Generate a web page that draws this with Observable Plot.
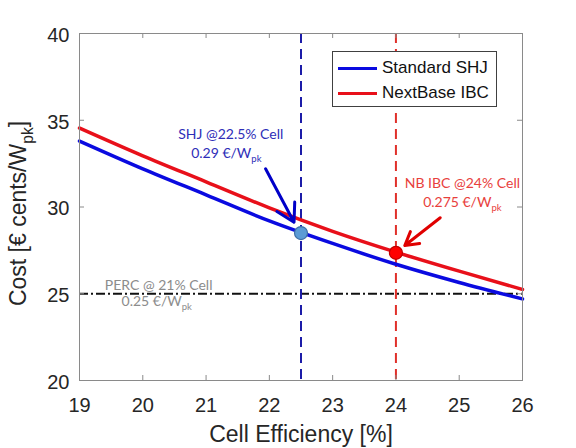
<!DOCTYPE html>
<html>
<head>
<meta charset="utf-8">
<script src="https://cdn.jsdelivr.net/npm/d3@7"></script>
<script src="https://cdn.jsdelivr.net/npm/@observablehq/plot@0.6"></script>
<style>
  html, body { margin: 0; padding: 0; background: #fff; }
  #wrap { position: relative; width: 576px; height: 448px; overflow: hidden; }
  #legend { position: absolute; left: 332px; top: 51px; width: 165px; height: 56px;
            border: 1px solid #404040; background: #fff; box-sizing: border-box;
            font-family: "Liberation Sans", Arial, sans-serif; font-size: 17px; color: #111; }
  .lg-line { position: absolute; left: 5px; width: 39px; height: 3.5px; }
  .lg-text { position: absolute; left: 49px; line-height: 17px; white-space: nowrap; }
</style>
</head>
<body>
<div id="wrap"></div>
<script>
// ---- data ----
const seriesNames = ["Standard SHJ", "NextBase IBC"];
const seriesColors = ["#0a0ae0", "#e8101a"];
const efficiency = [19, 20, 21, 22, 23, 24, 25, 26];
const shjCost = [33.8, 32.2, 30.7, 29.2, 27.9, 26.7, 25.65, 24.7];
const ibcCost = [34.55, 32.95, 31.45, 29.95, 28.6, 27.4, 26.3, 25.25];

const markerEff = [22.5, 24];
const markerCost = [28.5, 27.36];
const markerFill = ["#5b9bd5", "#ff0000"];
const markerStroke = ["#3d6fa6", "#c00000"];

const refEff = [22.5, 24];
const refColors = ["#1c1ca8", "#e0302a"];
const percCost = [25];

const xTicks = [19, 20, 21, 22, 23, 24, 25, 26];
const yTicks = [20, 25, 30, 35, 40];

const annText = ["SHJ @22.5% Cell", "0.29 €/W_pk", "NB IBC @24% Cell", "0.275 €/W_pk", "PERC @ 21% Cell", "0.25 €/W_pk"];
const annX = [21.39, 21.32, 25.05, 25.05, 20.25, 20.22];
const annY = [34.15, 33.11, 31.35, 30.27, 25.49, 24.55];
const annColor = ["#2e2eb8", "#2e2eb8", "#e8403c", "#e8403c", "#8c8c8c", "#8c8c8c"];

const arrowX1 = [21.94, 24.70];
const arrowY1 = [32.2, 29.38];
const arrowX2 = [22.39, 24.14];
const arrowY2 = [29.12, 27.78];
const arrowColor = ["#0000c8", "#e00000"];

const xLabel = "Cell Efficiency [%]";
const yLabel = "Cost [€ cents/W_pk]";

// ---- build tables ----
const curves = [];
efficiency.forEach((e, i) => {
  curves.push({series: seriesNames[0], eff: e, cost: shjCost[i]});
  curves.push({series: seriesNames[1], eff: e, cost: ibcCost[i]});
});
const markers = markerEff.map((e, i) => ({eff: e, cost: markerCost[i], fill: markerFill[i], stroke: markerStroke[i]}));
const refs = refEff.map((e, i) => ({eff: e, color: refColors[i]}));
const anns = annText.map((t, i) => ({text: t, x: annX[i], y: annY[i], color: annColor[i]}));
const arrows = arrowX1.map((x, i) => ({x1: x, y1: arrowY1[i], x2: arrowX2[i], y2: arrowY2[i], color: arrowColor[i]}));

const W = 576, H = 448;
const mL = 79, mR = 54, mT = 33, mB = 68;
const fw = W - mL - mR, fh = H - mT - mB;
const tick = 5;

const chart = Plot.plot({
  width: W, height: H,
  marginLeft: mL, marginRight: mR, marginTop: mT, marginBottom: mB,
  style: {fontFamily: "'Liberation Sans', Arial, sans-serif", color: "#262626", background: "white"},
  x: {domain: [19, 26], label: null},
  y: {domain: [20, 40], label: null},
  color: {domain: seriesNames, range: seriesColors},
  marks: [
    Plot.ruleY(percCost, {y: d => d, stroke: "#111", strokeWidth: 2, strokeDasharray: "9,3,2,3"}),
    Plot.ruleX(refs, {x: "eff", stroke: "color", strokeWidth: 2, strokeDasharray: "10,6"}),
    Plot.line(curves, {x: "eff", y: "cost", z: "series", stroke: "series", strokeWidth: 3.5, curve: "monotone-x"}),
    Plot.dot(markers, {x: "eff", y: "cost", r: 6.5, fill: "fill", stroke: "stroke", strokeWidth: 1.2}),
    Plot.arrow(arrows, {x1: "x1", y1: "y1", x2: "x2", y2: "y2", stroke: "color", strokeWidth: 3, headLength: 11}),
    Plot.text(anns, {x: "x", y: "y", text: "text", fill: "color", fontSize: 14, fontFamily: "Lato, 'Open Sans', sans-serif", textAnchor: "middle"}),
    Plot.frame({stroke: "#8a8a8a"}),
    Plot.tickX(xTicks, {x: d => d, stroke: "#8a8a8a", insetTop: fh - tick}),
    Plot.tickX(xTicks, {x: d => d, stroke: "#8a8a8a", insetBottom: fh - tick}),
    Plot.tickY(yTicks, {y: d => d, stroke: "#8a8a8a", insetRight: fw - tick}),
    Plot.tickY(yTicks, {y: d => d, stroke: "#8a8a8a", insetLeft: fw - tick}),
    Plot.axisX({ticks: xTicks, tickFormat: d => String(d), tickSize: 0, tickPadding: 17, fontSize: 20, label: null}),
    Plot.axisY({ticks: yTicks, tickFormat: d => String(d), tickSize: 0, tickPadding: 10, fontSize: 20, dy: 2, label: null}),
    Plot.text([xLabel], {frameAnchor: "bottom", text: d => d, fontSize: 23, textAnchor: "middle", lineAnchor: "middle", dy: 54.5, fill: "#262626"}),
    Plot.text([yLabel], {frameAnchor: "left", text: d => d, fontSize: 23, rotate: -90, textAnchor: "middle", lineAnchor: "middle", dx: -61, dy: 6.5, fill: "#262626"})
  ]
});

const wrap = document.getElementById("wrap");
wrap.appendChild(chart);

// subscripts: "_pk" -> real subscript tspan
const NS = "http://www.w3.org/2000/svg";
chart.querySelectorAll("text").forEach(el => {
  const s = el.textContent;
  const k = s.indexOf("_");
  if (k < 0 || el.querySelector("tspan")) return;
  const fs = parseFloat(getComputedStyle(el).fontSize) || 14;
  const before = s.slice(0, k);
  const rest = s.slice(k + 1);
  const sub = rest.match(/^[a-z]+/)[0];
  const after = rest.slice(sub.length);
  el.textContent = before;
  const t1 = document.createElementNS(NS, "tspan");
  t1.setAttribute("dy", (0.3 * fs).toFixed(2));
  t1.setAttribute("font-size", (0.68 * fs).toFixed(2));
  t1.textContent = sub;
  el.appendChild(t1);
  if (after) {
    const t2 = document.createElementNS(NS, "tspan");
    t2.setAttribute("dy", (-0.3 * fs).toFixed(2));
    t2.textContent = after;
    el.appendChild(t2);
  }
});

// legend (overlaid inside the axes, like the original)
const legend = document.createElement("div");
legend.id = "legend";
seriesNames.forEach((name, i) => {
  const line = document.createElement("div");
  line.className = "lg-line";
  line.style.background = seriesColors[i];
  line.style.top = (14.5 + 25 * i) + "px";
  const txt = document.createElement("div");
  txt.className = "lg-text";
  txt.style.top = (7 + 25 * i) + "px";
  txt.textContent = name;
  legend.appendChild(line);
  legend.appendChild(txt);
});
wrap.appendChild(legend);
</script>
</body>
</html>
